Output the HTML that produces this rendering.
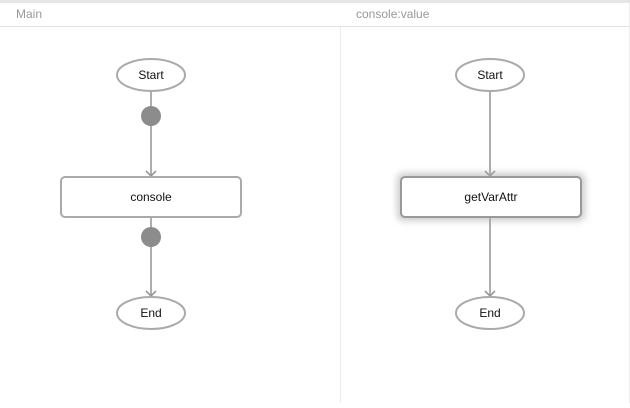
<!DOCTYPE html>
<html><head><style>
body{margin:0;width:630px;height:403px;overflow:hidden;background:#fff;font-family:"Liberation Sans",sans-serif}
</style></head><body>
<svg width="630" height="403" viewBox="0 0 630 403" xmlns="http://www.w3.org/2000/svg">
<defs><filter id="sh" x="-20%" y="-50%" width="140%" height="200%"><feGaussianBlur stdDeviation="3.5"/></filter></defs>
<rect x="0" y="0" width="630" height="3" fill="#e6e6e6"/>
<line x1="0" y1="26.5" x2="630" y2="26.5" stroke="#e3e3e3"/>
<line x1="340.5" y1="27" x2="340.5" y2="403" stroke="#ececec"/>
<line x1="629.5" y1="3" x2="629.5" y2="403" stroke="#ececec"/>
<text x="16" y="18" font-size="12" fill="#999">Main</text>
<text x="356" y="18" font-size="12" fill="#999">console:value</text>
<g stroke="#999" stroke-width="1.6" fill="none">
<line x1="151" y1="91" x2="151" y2="176"/>
<line x1="151" y1="217" x2="151" y2="296"/>
<line x1="490" y1="91" x2="490" y2="176"/>
<line x1="490" y1="217" x2="490" y2="296"/>
<polyline points="146,171 151,176 156,171"/>
<polyline points="146,291 151,296 156,291"/>
<polyline points="485,171 490,176 495,171"/>
<polyline points="485,291 490,296 495,291"/>
</g>
<circle cx="151" cy="116" r="10" fill="#8c8c8c"/>
<circle cx="151" cy="237" r="10" fill="#8c8c8c"/>
<g fill="#fff" stroke="#aaa" stroke-width="2">
<ellipse cx="151" cy="75" rx="34" ry="16"/>
<ellipse cx="151" cy="313" rx="34" ry="16"/>
<ellipse cx="490" cy="75" rx="34" ry="16"/>
<ellipse cx="490" cy="313" rx="34" ry="16"/>
<rect x="61" y="177" width="180" height="40" rx="4"/>
</g>
<rect x="397" y="173" width="188" height="48" rx="6" fill="#aaa" opacity="0.6" filter="url(#sh)"/>
<rect x="401" y="177" width="180" height="40" rx="4" fill="#fff" stroke="#999" stroke-width="2"/>
<g font-size="12" fill="#111" text-anchor="middle">
<text x="151" y="79">Start</text>
<text x="151" y="317">End</text>
<text x="490" y="79">Start</text>
<text x="490" y="317">End</text>
<text x="151" y="201">console</text>
<text x="491" y="201">getVarAttr</text>
</g>
</svg>
</body></html>
